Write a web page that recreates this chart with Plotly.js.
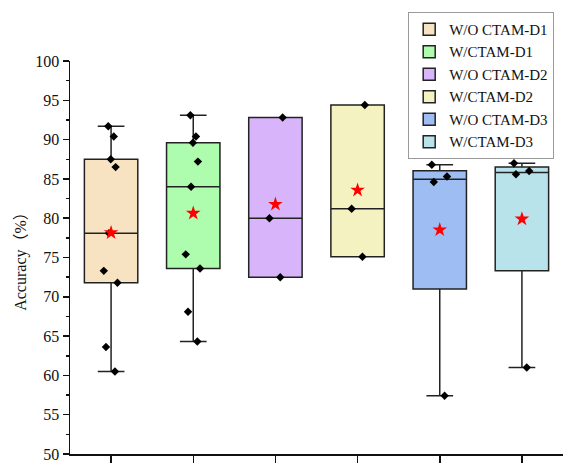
<!DOCTYPE html>
<html>
<head>
<meta charset="utf-8">
<script src="https://cdn.plot.ly/plotly-3.0.1.min.js"></script>
<style>html,body{margin:0;padding:0;background:#fff;}#chart{width:564px;height:464px;}</style>
</head>
<body>
<div id="chart"></div>
<script>
var names = ["W/O CTAM-D1", "W/CTAM-D1", "W/O CTAM-D2", "W/CTAM-D2", "W/O CTAM-D3", "W/CTAM-D3"];
var woD1 = [91.7, 90.4, 87.5, 86.5, 78.1, 73.3, 71.8, 63.6, 60.5];
var wD1 = [93.1, 90.4, 89.6, 87.2, 84.0, 75.4, 73.6, 68.1, 64.3];
var woD2 = [92.8, 80.0, 72.5];
var wD2 = [94.4, 81.2, 75.1];
var woD3 = [86.8, 85.3, 84.6, 57.4];
var wD3 = [87.0, 86.0, 85.6, 61.0];
var quartileMethods = ["inclusive", "inclusive", "exclusive", "exclusive", "inclusive", "inclusive"];
var fills = ["#F7E3C2", "#AEFCAE", "#D8B4FA", "#F5F2C1", "#9EBDF2", "#B8E3EA"];

var series = [woD1, wD1, woD2, wD2, woD3, wD3];
var traces = [];
series.forEach(function (vals, i) {
  traces.push({
    type: "box",
    name: names[i],
    x: vals.map(function () { return names[i]; }),
    y: vals,
    quartilemethod: quartileMethods[i],
    boxpoints: "all",
    jitter: 0.35,
    pointpos: 0,
    width: 0.65,
    whiskerwidth: 0.5,
    fillcolor: fills[i],
    line: { color: "#222222", width: 1.5 },
    marker: { symbol: "diamond", color: "#000000", size: 6.5 },
    showlegend: true,
    hoverinfo: "y"
  });
});
var means = series.map(function (v) { return v.reduce(function (a, b) { return a + b; }, 0) / v.length; });
traces.push({
  type: "scatter",
  mode: "markers",
  x: names,
  y: means,
  marker: { symbol: "star", color: "#FF0000", size: 11 },
  showlegend: false,
  hoverinfo: "y"
});

var layout = {
  width: 564,
  height: 464,
  margin: { l: 70, r: 1, t: 61, b: 10 },
  paper_bgcolor: "#ffffff",
  plot_bgcolor: "#ffffff",
  font: { family: "Liberation Serif, Times New Roman, serif", color: "#111111" },
  boxmode: "overlay",
  showlegend: true,
  legend: {
    x: 0.686, y: 1.125, xanchor: "left", yanchor: "top",
    bgcolor: "#ffffff", bordercolor: "#9a9a9a", borderwidth: 1,
    font: { size: 15, family: "Liberation Serif, Times New Roman, serif", color: "#111" },
    tracegroupgap: 0, itemwidth: 30
  },
  xaxis: {
    type: "category",
    range: [-0.5, 5.5],
    showticklabels: false,
    ticks: "outside", ticklen: 7, tickwidth: 1.5, tickcolor: "#111",
    showline: true, linecolor: "#111", linewidth: 1.5,
    showgrid: false, zeroline: false, fixedrange: true
  },
  yaxis: {
    range: [50, 100],
    dtick: 5, tick0: 50,
    ticks: "outside", ticklen: 6, tickwidth: 1.5, tickcolor: "#111",
    ticklabeloverflow: "allow",
    automargin: false,
    minor: { dtick: 2.5, ticks: "outside", ticklen: 3, tickwidth: 1.5, tickcolor: "#111", showgrid: false },
    showline: true, linecolor: "#111", linewidth: 1.5,
    showgrid: false, zeroline: false,
    tickfont: { size: 16, family: "Liberation Serif, Times New Roman, serif", color: "#111" },
    title: { text: "Accuracy（%）", font: { size: 16, family: "Liberation Serif, Noto Sans CJK SC, serif", color: "#111" }, standoff: 4 }
  }
};
Plotly.newPlot("chart", traces, layout, { displayModeBar: false, staticPlot: true });
</script>
</body>
</html>
